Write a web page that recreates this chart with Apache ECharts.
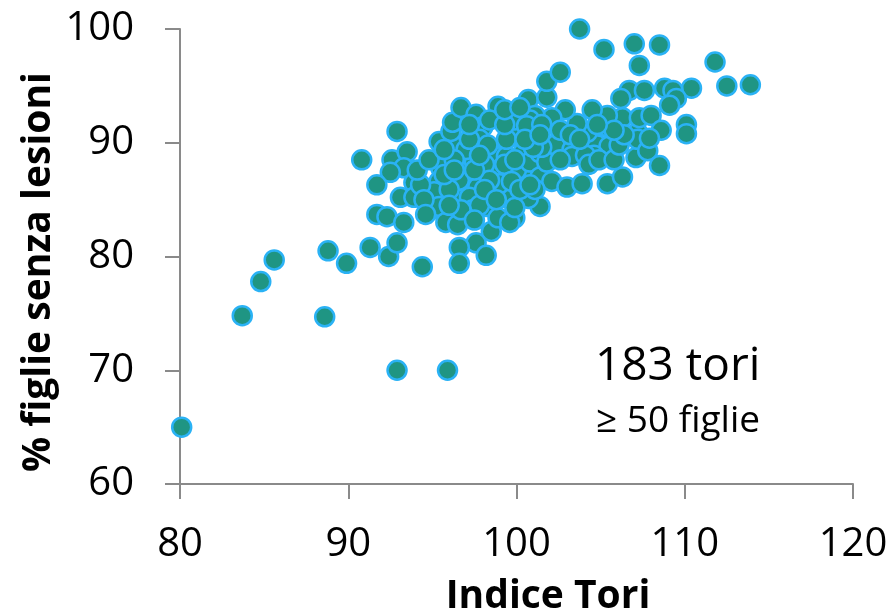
<!DOCTYPE html>
<html>
<head>
<meta charset="utf-8">
<script src="https://cdn.jsdelivr.net/npm/echarts@6/dist/echarts.min.js"></script>
<style>
html,body{margin:0;padding:0;background:#fff;}
#chart{width:896px;height:613px;}
</style>
</head>
<body>
<div id="chart"></div>
<script>
// Indice Tori (x) for each of the 183 bulls
const indiceTori = [
80.1,83.7,84.8,85.6,88.6,88.8,89.9,92.9,95.9,94.4,
91.3,92.4,92.9,90.8,92.9,92.6,93.5,93.3,92.5,91.7,
93.9,93.1,93.9,91.7,92.3,93.3,95.4,95.5,95.4,95.1,
94.9,95.4,95.8,96.5,96.3,97.2,97.3,98.2,97.7,96.9,
97.5,98.5,96.4,96.1,96.2,96.7,97.6,98.0,98.9,97.8,
98.9,99.4,99.8,99.9,100.7,100.4,100.4,99.3,99.9,98.5,
97.6,98.2,96.6,96.6,100.7,101.4,97.0,97.2,97.4,99.0,
98.9,99.6,97.8,100.0,100.8,100.7,101.4,102.1,103.0,103.9,
101.4,101.8,102.3,103.3,103.3,104.8,105.5,105.4,106.3,107.1,
107.2,106.3,105.4,105.4,104.5,104.2,103.6,102.9,102.1,101.1,
100.8,100.6,98.1,99.9,101.8,101.8,102.6,103.75,105.2,107.0,
108.5,107.3,111.8,112.5,113.9,110.4,108.8,109.3,109.5,109.1,
106.7,107.6,106.2,107.3,108.0,108.6,110.1,110.1,107.2,107.8,
108.5,104.6,104.1,101.5,101.0,99.4,94.3,
101.5,97.2,98.3,99.3,99.9,99.7,98.4,98.1,96.6,96.0,
96.7,96.0,94.5,94.6,94.1,94.8,96.3,100.2,101.1,100.5,
101.4,102.6,103.2,103.75,102.6,104.3,104.9,105.8,106.1,106.4,
105.8,104.8,107.9,98.4,97.2,99.3,99.3,100.2,97.5,97.8,
95.7,95.7,97.5,98.8,96.3,100.8
];
// % figlie senza lesioni (y), same order
const figlieSenzaLesioni = [
65.0,74.8,77.8,79.7,74.7,80.5,79.4,70.0,70.0,79.1,
80.8,80.0,81.2,88.5,91.0,88.5,89.2,87.8,87.4,86.3,
86.5,85.2,85.2,83.7,83.5,83.0,90.1,87.8,86.6,85.7,
84.1,84.4,83.0,82.8,85.4,86.6,85.6,84.4,86.1,88.1,
88.3,89.1,89.6,91.0,91.8,93.1,92.5,91.4,93.2,90.3,
87.6,88.8,90.7,92.0,93.8,89.2,87.0,85.2,83.4,82.2,
81.2,80.1,80.8,79.4,87.4,84.4,89.4,85.2,84.1,86.4,
83.4,83.0,84.5,87.6,88.3,85.1,87.0,86.6,86.1,86.4,
89.1,88.3,89.8,89.4,88.8,89.8,89.7,86.4,87.0,88.7,
90.9,92.2,91.4,92.4,92.9,90.9,91.7,92.9,92.2,92.4,
92.0,91.5,88.1,84.3,94.0,95.4,96.2,100.0,98.2,98.7,
98.6,96.8,97.1,95.0,95.1,94.8,94.8,94.6,93.9,93.3,
94.6,94.6,93.9,92.2,92.4,91.1,91.6,90.8,90.3,89.3,
88.0,88.9,88.9,89.6,89.6,90.3,86.3,
91.6,90.3,89.8,88.1,88.5,86.6,86.7,85.9,86.7,85.9,
84.1,84.5,85.0,83.7,87.6,88.5,88.5,85.9,85.9,90.3,
90.7,91.1,90.7,90.3,88.5,88.1,88.5,88.5,89.8,90.7,
91.1,91.6,90.4,92.0,91.6,91.6,92.9,93.1,87.6,88.9,
89.4,87.2,83.2,85.0,87.6,86.3
];
const xTicks = [80, 90, 100, 110, 120];
const yTicks = [60, 70, 80, 90, 100];
const xTitle = 'Indice Tori';
const yTitle = '% figlie senza lesioni';
const noteMain = '183 tori';
const noteSub = '\u2265 50 figlie';

const points = indiceTori.map((x, i) => [x, figlieSenzaLesioni[i]]);
const FONT = '"Open Sans", "Liberation Sans", sans-serif';
const axisGray = '#8a8a8a';

const chart = echarts.init(document.getElementById('chart'), null, {renderer: 'canvas'});
chart.setOption({
  animation: false,
  backgroundColor: '#ffffff',
  grid: {left: 180, right: 43, top: 29, bottom: 129, containLabel: false},
  xAxis: {
    type: 'value',
    min: xTicks[0], max: xTicks[xTicks.length - 1], interval: 10,
    axisLine: {onZero: false, lineStyle: {color: axisGray, width: 2}},
    axisTick: {show: true, inside: false, length: 15, lineStyle: {color: axisGray, width: 2}},
    splitLine: {show: false},
    axisLabel: {margin: 41, color: '#000', fontSize: 40, fontFamily: FONT}
  },
  yAxis: {
    type: 'value',
    min: yTicks[0], max: yTicks[yTicks.length - 1], interval: 10,
    axisLine: {show: true, onZero: false, lineStyle: {color: axisGray, width: 2}},
    axisTick: {show: true, inside: false, length: 15, lineStyle: {color: axisGray, width: 2}},
    splitLine: {show: false},
    axisLabel: {margin: 46, color: '#000', fontSize: 40, fontFamily: FONT}
  },
  series: [{
    type: 'scatter',
    data: points,
    clip: false,
    symbol: 'circle',
    symbolSize: 19,
    itemStyle: {color: '#1f9583', borderColor: '#2ab2f5', borderWidth: 2.5, opacity: 1}
  }],
  graphic: [
    {type: 'text', x: 548, y: 597, style: {text: xTitle, fill: '#000', font: 'bold 39px ' + FONT, textAlign: 'center', textVerticalAlign: 'middle'}},
    {type: 'text', x: 39, y: 272, rotation: Math.PI / 2, style: {text: yTitle, fill: '#000', font: 'bold 39px ' + FONT, textAlign: 'center', textVerticalAlign: 'middle'}},
    {type: 'text', x: 595, y: 367, style: {text: noteMain, fill: '#000', font: '46px ' + FONT, textAlign: 'left', textVerticalAlign: 'middle'}},
    {type: 'text', x: 596, y: 421, style: {text: noteSub, fill: '#000', font: '37px ' + FONT, textAlign: 'left', textVerticalAlign: 'middle'}}
  ]
});
</script>
</body>
</html>
